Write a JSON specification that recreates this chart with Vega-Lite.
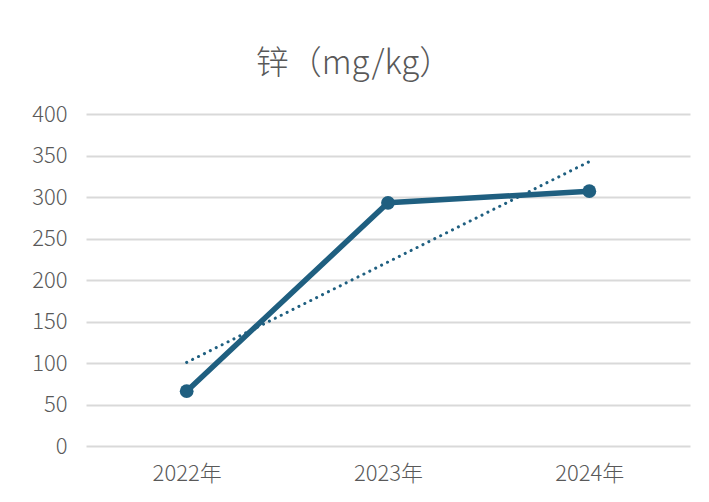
{
  "$schema": "https://vega.github.io/schema/vega-lite/v6.json",
  "width": 604,
  "height": 332,
  "autosize": {"type": "none"},
  "padding": {"left": 86, "top": 114, "right": 19, "bottom": 56},
  "background": "white",
  "title": {
    "text": "锌（mg/kg）",
    "fontSize": 33,
    "font": "Noto Sans CJK SC",
    "fontWeight": 300,
    "color": "#595959",
    "anchor": "middle",
    "dx": -34,
    "offset": 22
  },
  "config": {
    "view": {"stroke": null},
    "font": "Noto Sans CJK SC"
  },
  "data": {
    "values": [
      {"year": "2022年", "value": 66, "trend": 100.7},
      {"year": "2023年", "value": 293, "trend": 221.7},
      {"year": "2024年", "value": 307, "trend": 342.7}
    ]
  },
  "encoding": {
    "x": {
      "field": "year",
      "type": "nominal",
      "sort": null,
      "scale": {"paddingInner": 0, "paddingOuter": 0},
      "axis": {
        "title": null,
        "labelAngle": 0,
        "labelFontSize": 22,
        "labelFontWeight": 300,
        "labelColor": "#595959",
        "labelPadding": 17,
        "ticks": false,
        "domain": false,
        "grid": false
      }
    }
  },
  "layer": [
    {
      "mark": {"type": "line", "color": "#1F5F80", "strokeWidth": 3, "strokeDash": [0.1, 6.5], "strokeCap": "round"},
      "encoding": {
        "y": {"field": "trend", "type": "quantitative"}
      }
    },
    {
      "mark": {"type": "line", "color": "#1F5F80", "strokeWidth": 5.5, "point": {"filled": true, "size": 190, "color": "#1F5F80"}},
      "encoding": {
        "y": {
          "field": "value",
          "type": "quantitative",
          "scale": {"domain": [0, 400]},
          "axis": {
            "title": null,
            "values": [0, 50, 100, 150, 200, 250, 300, 350, 400],
            "labelFontSize": 22,
            "labelFontWeight": 300,
            "labelColor": "#595959",
            "labelPadding": 19,
            "ticks": false,
            "domain": false,
            "gridColor": "#d9d9d9",
            "gridWidth": 2
          }
        }
      }
    }
  ]
}
